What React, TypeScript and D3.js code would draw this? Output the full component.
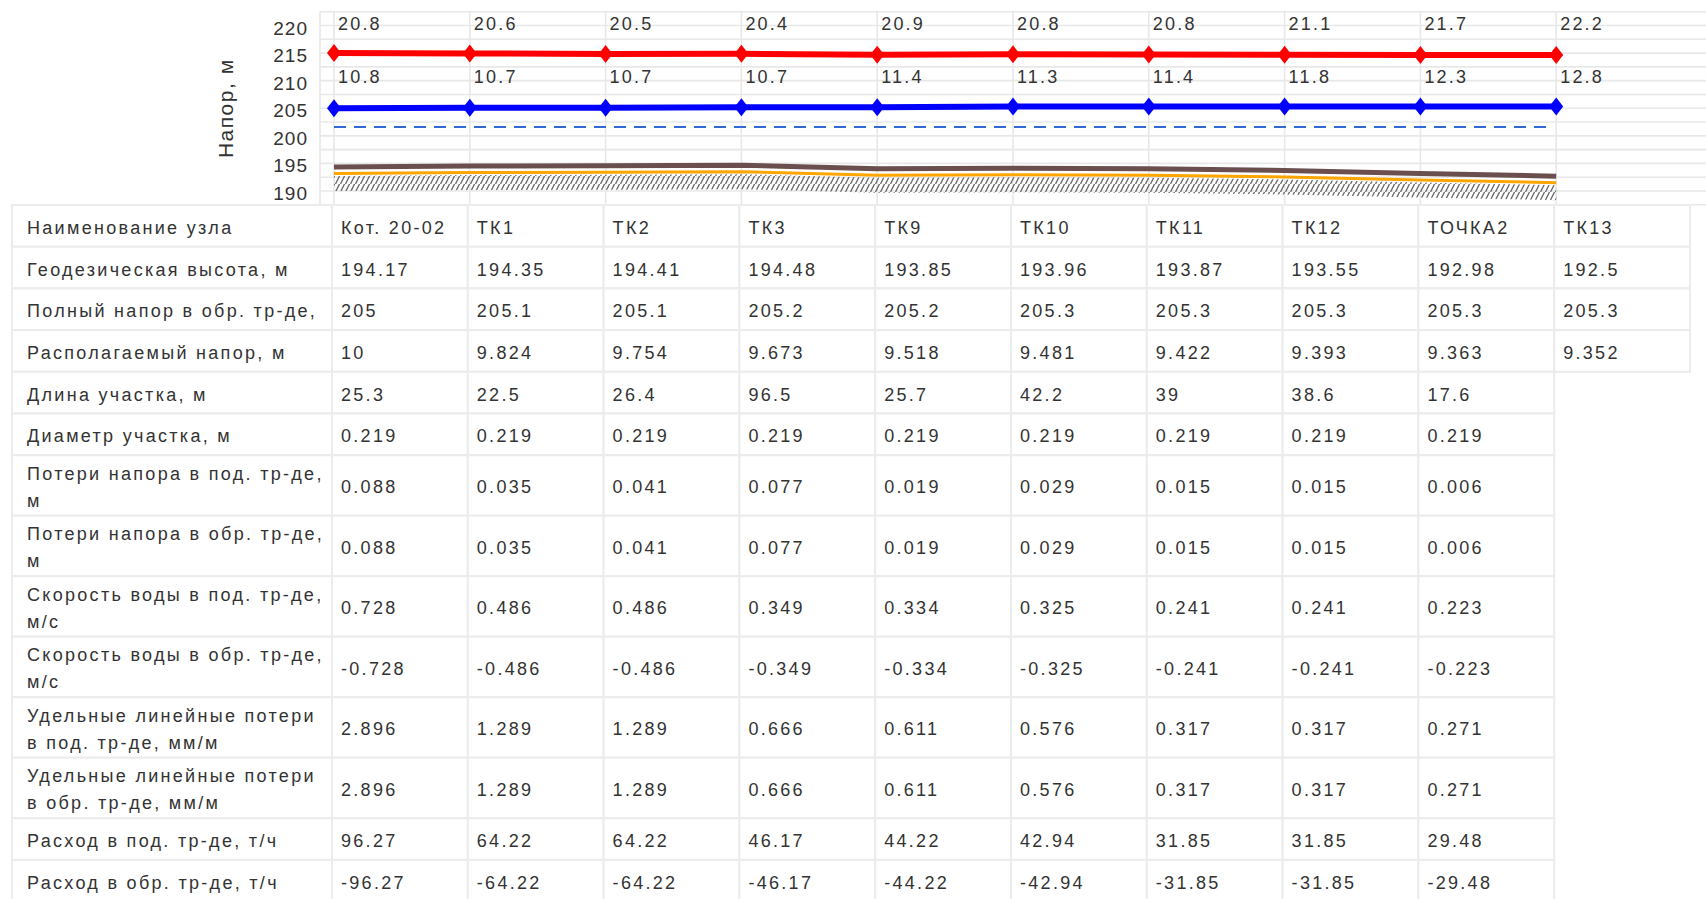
import React from 'react';
import * as d3 from 'd3';

// узлы трассы
const nodeNames = ['Кот. 20-02', 'ТК1', 'ТК2', 'ТК3', 'ТК9', 'ТК10', 'ТК11', 'ТК12', 'ТОЧКА2', 'ТК13'];
const elevation = [194.17, 194.35, 194.41, 194.48, 193.85, 193.96, 193.87, 193.55, 192.98, 192.5];
const returnHead = [205, 205.1, 205.1, 205.2, 205.2, 205.3, 205.3, 205.3, 205.3, 205.3];
const availableHead = [10, 9.824, 9.754, 9.673, 9.518, 9.481, 9.422, 9.393, 9.363, 9.352];
// подписи пьезометров (напор над землёй)
const supplyPressure = [20.8, 20.6, 20.5, 20.4, 20.9, 20.8, 20.8, 21.1, 21.7, 22.2];
const returnPressure = [10.8, 10.7, 10.7, 10.7, 11.4, 11.3, 11.4, 11.8, 12.3, 12.8];
const staticHead = 201.6;

// участки
const sectionLength = [25.3, 22.5, 26.4, 96.5, 25.7, 42.2, 39, 38.6, 17.6];
const sectionDiameter = [0.219, 0.219, 0.219, 0.219, 0.219, 0.219, 0.219, 0.219, 0.219];
const lossSupply = [0.088, 0.035, 0.041, 0.077, 0.019, 0.029, 0.015, 0.015, 0.006];
const lossReturn = [0.088, 0.035, 0.041, 0.077, 0.019, 0.029, 0.015, 0.015, 0.006];
const speedSupply = [0.728, 0.486, 0.486, 0.349, 0.334, 0.325, 0.241, 0.241, 0.223];
const speedReturn = [-0.728, -0.486, -0.486, -0.349, -0.334, -0.325, -0.241, -0.241, -0.223];
const specLossSupply = [2.896, 1.289, 1.289, 0.666, 0.611, 0.576, 0.317, 0.317, 0.271];
const specLossReturn = [2.896, 1.289, 1.289, 0.666, 0.611, 0.576, 0.317, 0.317, 0.271];
const flowSupply = [96.27, 64.22, 64.22, 46.17, 44.22, 42.94, 31.85, 31.85, 29.48];
const flowReturn = [-96.27, -64.22, -64.22, -46.17, -44.22, -42.94, -31.85, -31.85, -29.48];

const yTicks = [190, 195, 200, 205, 210, 215, 220];

const tableRows: [string, (string | number)[]][] = [
  ['Наименование узла', nodeNames],
  ['Геодезическая высота, м', elevation],
  ['Полный напор в обр. тр-де,', returnHead],
  ['Располагаемый напор, м', availableHead],
  ['Длина участка, м', sectionLength],
  ['Диаметр участка, м', sectionDiameter],
  ['Потери напора в под. тр-де,\nм', lossSupply],
  ['Потери напора в обр. тр-де,\nм', lossReturn],
  ['Скорость воды в под. тр-де,\nм/с', speedSupply],
  ['Скорость воды в обр. тр-де,\nм/с', speedReturn],
  ['Удельные линейные потери\nв под. тр-де, мм/м', specLossSupply],
  ['Удельные линейные потери\nв обр. тр-де, мм/м', specLossReturn],
  ['Расход в под. тр-де, т/ч', flowSupply],
  ['Расход в обр. тр-де, т/ч', flowReturn],
];

const W = 1706;
const H = 899;
const font = '"Liberation Sans", Arial, sans-serif';
const textColor = '#333';

const App = () => {
  // колонки таблицы и узлы графика совпадают
  const col = d3.scaleBand<string>().domain(nodeNames).range([332, 1690]);
  const x = (n: string) => (col(n) as number) + 2;
  const y = d3.scaleLinear().domain([190, 220]).range([191, 25.5]);

  const supplyHead = returnHead.map((r, i) => r + availableHead[i]);

  const line = d3
    .line<number>()
    .x((d, i) => x(nodeNames[i]))
    .y(d => y(d));

  const groundLine = (dy: number) =>
    d3
      .line<number>()
      .x((d, i) => x(nodeNames[i]))
      .y(d => y(d) + dy)(elevation);

  const hatch = d3
    .area<number>()
    .x((d, i) => x(nodeNames[i]))
    .y0(d => y(d) + 23)
    .y1(d => y(d) + 8);

  const gridVals = d3.range(187.5, 222.51, 2.5);
  const diamond = 'M0,-9L7,0L0,9L-7,0Z';
  const lastX = x(nodeNames[nodeNames.length - 1]);

  const tableLeft = 12;
  const rowH = (label: string) => (label.includes('\n') ? 60.5 : 41.7);
  let acc = 205;
  const rowTops = tableRows.map(([label]) => {
    const t = acc;
    acc += rowH(label);
    return t;
  });

  return (
    <svg
      width={W}
      height={H}
      style={{ position: 'absolute', left: 0, top: 0, display: 'block', background: '#fff' }}
      fontFamily={font}
    >
      <defs>
        <pattern id="hatch" patternUnits="userSpaceOnUse" width="5" height="8">
          <path d="M0.5,8L4.5,0" stroke="#6a6a6a" strokeWidth="1.3" />
        </pattern>
        <clipPath id="page">
          <rect x={0} y={0} width={W} height={H} />
        </clipPath>
      </defs>

      {/* сетка */}
      <g stroke="#e8e8e8" strokeWidth={1.6}>
        {gridVals.map(v => (
          <line key={v} x1={320} x2={W} y1={y(v)} y2={y(v)} />
        ))}
        <line x1={320} x2={320} y1={y(222.5)} y2={y(187.5)} />
        {nodeNames.map(n => (
          <line key={n} x1={x(n)} x2={x(n)} y1={y(222.5)} y2={y(187.5)} />
        ))}
      </g>

      {/* ось Y */}
      <g fill={textColor}>
        {yTicks.map(t => (
          <text
            key={t}
            x={308}
            y={y(t) + 2.5}
            textAnchor="end"
            dominantBaseline="central"
            fontSize={19}
            letterSpacing={1}
          >
            {t}
          </text>
        ))}
        <text
          transform={`translate(225,${y(205)}) rotate(-90)`}
          textAnchor="middle"
          dominantBaseline="central"
          fontSize={21}
          letterSpacing={1.5}
        >
          Напор, м
        </text>
      </g>

      {/* земля */}
      <path d={hatch(elevation) as string} fill="url(#hatch)" />
      <path d={groundLine(5.5) as string} fill="none" stroke="#ffa500" strokeWidth={3} />
      <path d={groundLine(-1) as string} fill="none" stroke="#6b4f4f" strokeWidth={5} />

      {/* статический напор */}
      <line
        x1={x(nodeNames[0])}
        x2={lastX - 6}
        y1={y(staticHead)}
        y2={y(staticHead)}
        stroke="#2f6ad6"
        strokeWidth={2}
        strokeDasharray="12,8"
      />

      {/* пьезометры */}
      <path d={line(returnHead) as string} fill="none" stroke="#0000ff" strokeWidth={6} />
      <path d={line(supplyHead) as string} fill="none" stroke="#ff0000" strokeWidth={6} />
      {nodeNames.map((n, i) => (
        <g key={n}>
          <path d={diamond} transform={`translate(${x(n)},${y(supplyHead[i])})`} fill="#ff0000" />
          <path d={diamond} transform={`translate(${x(n)},${y(returnHead[i])})`} fill="#0000ff" />
          <text x={x(n) + 4} y={30} fontSize={18} letterSpacing={2.2} fill={textColor}>
            {supplyPressure[i]}
          </text>
          <text x={x(n) + 4} y={83} fontSize={18} letterSpacing={2.2} fill={textColor}>
            {returnPressure[i]}
          </text>
        </g>
      ))}

      {/* таблица */}
      <g clipPath="url(#page)" fontSize={18} letterSpacing={2.3} fill={textColor}>
        {tableRows.map(([label, values], r) => {
          const top = rowTops[r];
          const h = rowH(label);
          const cy = top + h / 2 + 8;
          const lines = label.split('\n');
          return (
            <g key={label}>
              <rect
                x={tableLeft}
                y={top}
                width={332 - tableLeft}
                height={h}
                fill="#fff"
                stroke="#ececec"
                strokeWidth={2}
              />
              {values.map((v, i) => (
                <rect
                  key={i}
                  x={col(nodeNames[i])}
                  y={top}
                  width={col.bandwidth()}
                  height={h}
                  fill="#fff"
                  stroke="#ececec"
                  strokeWidth={2}
                />
              ))}
              {lines.map((t, k) => (
                <text key={k} x={27} y={cy + (k - (lines.length - 1) / 2) * 27}>
                  {t}
                </text>
              ))}
              {values.map((v, i) => (
                <text key={i} x={(col(nodeNames[i]) as number) + 9} y={cy}>
                  {String(v)}
                </text>
              ))}
            </g>
          );
        })}
      </g>
    </svg>
  );
};

export default App;
